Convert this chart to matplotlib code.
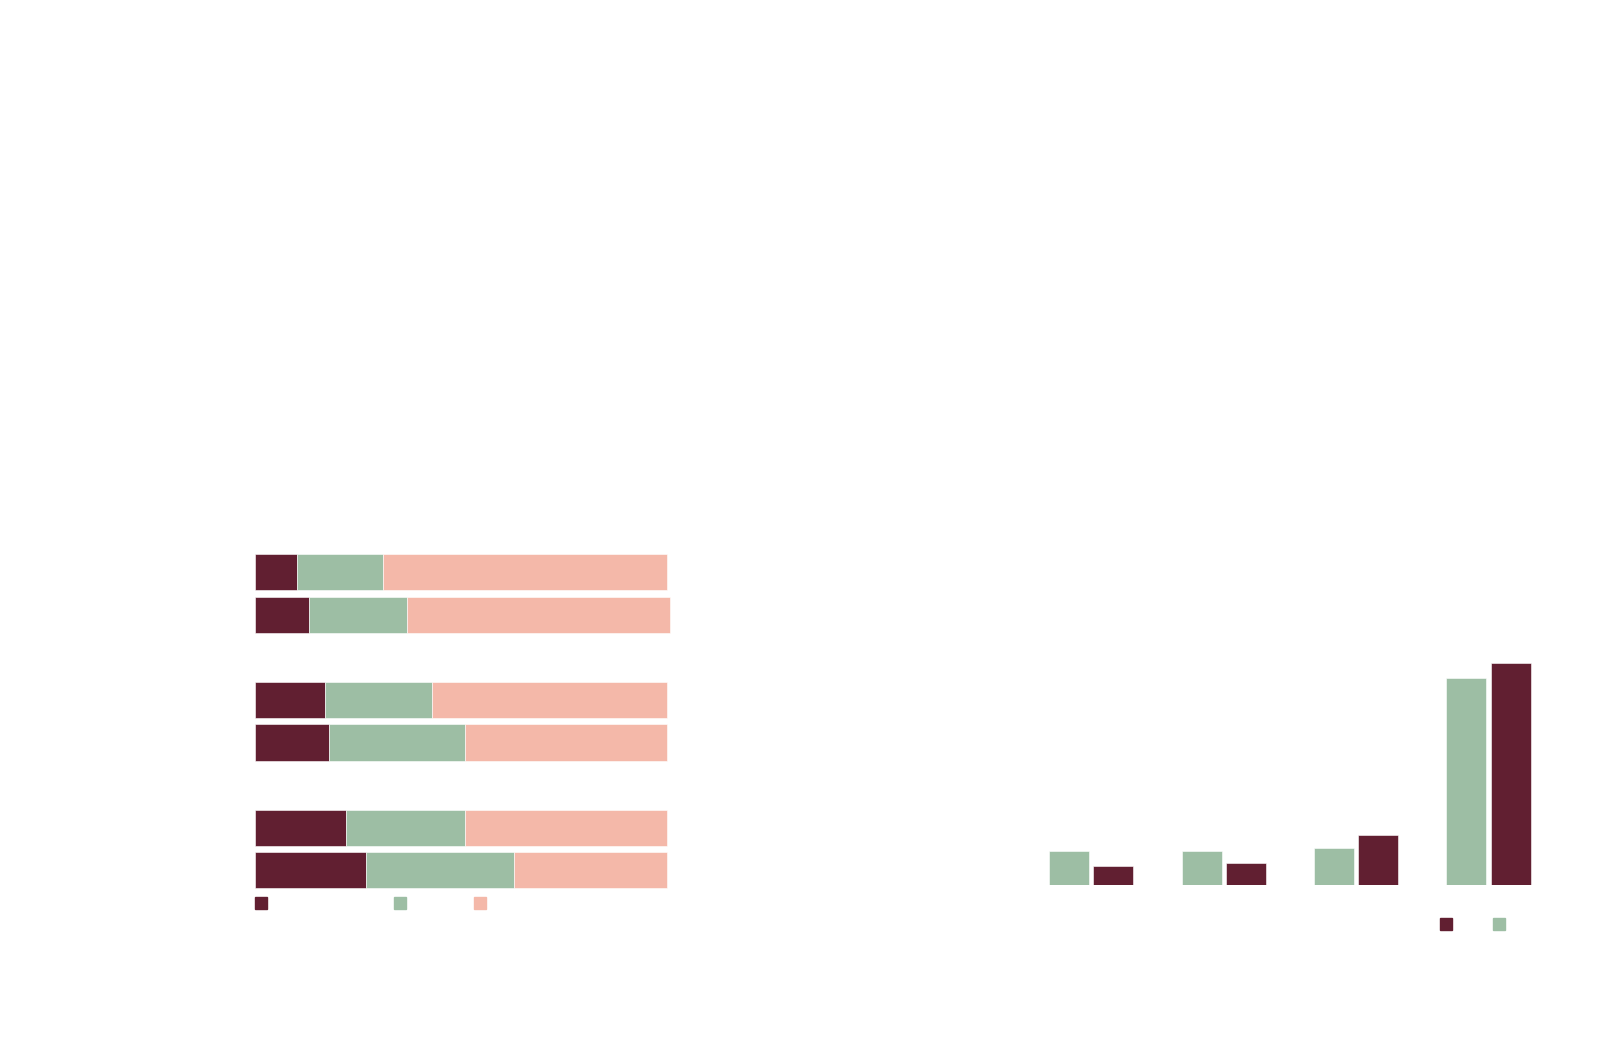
import matplotlib.pyplot as plt
from matplotlib.patches import Rectangle

# left chart: stacked shares (%), one row per bar, top to bottom
share_dark = [10.1, 13.1, 17.1, 18.0, 22.1, 27.0]
share_green = [21.0, 23.8, 25.9, 33.0, 28.9, 36.0]
share_pink = [68.9, 64.0, 57.0, 49.0, 49.0, 37.0]
row_pos = [0, 1, 3, 4, 6, 7]

# right chart: grouped bars
groups = [0, 1, 2, 3]
vals_green = [3.4, 3.4, 3.7, 20.7]
vals_dark = [1.9, 2.2, 5.0, 22.2]

DARK = "#611f31"
GREEN = "#9dbea4"
PINK = "#f4b8a9"

W, H = 1614, 1043
fig = plt.figure(figsize=(W / 100, H / 100), dpi=100)


def frac(x0, y0, x1, y1):
    # pixel box (top-left origin) -> figure fraction [l, b, w, h]
    return [x0 / W, 1 - y1 / H, (x1 - x0) / W, (y1 - y0) / H]


# --- left: stacked horizontal bars
ax1 = fig.add_axes(frac(255, 551, 666.7, 891.6))
left = [0] * len(share_dark)
for vals, col in [(share_dark, DARK), (share_green, GREEN), (share_pink, PINK)]:
    ax1.barh(row_pos, vals, left=left, height=0.85, color=col,
             edgecolor="white", linewidth=0.4, clip_on=False)
    left = [a + b for a, b in zip(left, vals)]
ax1.set_xlim(0, 100)
ax1.set_ylim(7.5, -0.5)
ax1.axis("off")

# legend keys (no labels in the original)
for x0, col in [(255, DARK), (394, GREEN), (474, PINK)]:
    fig.patches.append(Rectangle((x0 / W, 1 - 909 / H), 12 / W, 12 / H,
                                 transform=fig.transFigure, color=col))

# --- right: grouped vertical bars
ax2 = fig.add_axes(frac(1025.1, 635, 1554.8, 885))
ax2.bar([g - 0.167 for g in groups], vals_green, width=0.302, color=GREEN,
        edgecolor="white", linewidth=0.4)
ax2.bar([g + 0.167 for g in groups], vals_dark, width=0.302, color=DARK,
        edgecolor="white", linewidth=0.4)
ax2.set_xlim(-0.5, 3.5)
ax2.set_ylim(0, 25)
ax2.axis("off")

for x0, col in [(1440, DARK), (1492.7, GREEN)]:
    fig.patches.append(Rectangle((x0 / W, 1 - 930.3 / H), 12 / W, 12 / H,
                                 transform=fig.transFigure, color=col))

fig.savefig("out.png", dpi=100, facecolor="white")
